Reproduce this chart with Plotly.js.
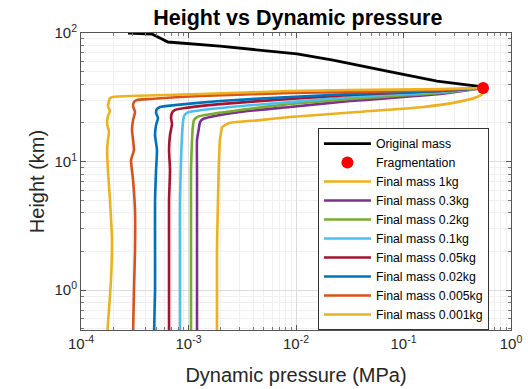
<!DOCTYPE html>
<html>
<head>
<meta charset="utf-8">
<script src="https://cdn.plot.ly/plotly-3.0.1.min.js"></script>
<style>html,body{margin:0;padding:0;background:#fff;}#chart{width:528px;height:389px;}</style>
</head>
<body>
<div id="chart"></div>
<script>
// Original mass trajectory
const origX = [2.74e-4, 4.57e-4, 6.44e-4, 1.96e-3, 0.0102, 0.0221, 0.0703, 0.205, 0.483, 0.55];
const origY = [100, 98.2, 85.1, 79.2, 68.7, 61.6, 50.6, 42.3, 38.7, 37.3];
// Fragmentation point
const fragX = [0.55];
const fragY = [37.3];
// Final mass curves
const m1X = [0.55, 0.55, 0.483, 0.315, 0.152, 0.0369, 8.79e-3, 4.62e-3, 2.43e-3, 2.19e-3, 2.05e-3, 2.01e-3, 1.96e-3, 1.92e-3, 1.88e-3, 1.84e-3, 1.84e-3, 1.84e-3];
const m1Y = [37.3, 34.1, 31.8, 29.0, 26.6, 24.3, 22.2, 21.0, 20.0, 19.2, 18.5, 17.0, 14.7, 10.3, 5.01, 2.05, 1.0, 0.45];
const m03X = [0.55, 0.219, 0.0318, 8.79e-3, 3.01e-3, 1.585e-3, 1.36e-3, 1.28e-3, 1.25e-3, 1.2e-3, 1.2e-3, 1.2e-3, 1.2e-3, 1.2e-3, 1.2e-3];
const m03Y = [37.3, 33.5, 29.6, 26.6, 24.3, 22.2, 21.4, 20.3, 18.2, 14.7, 8.59, 5.01, 2.05, 1.0, 0.45];
const m02X = [0.55, 0.219, 0.0318, 8.79e-3, 3.01e-3, 1.42e-3, 1.2e-3, 1.125e-3, 1.10e-3, 1.078e-3, 1.055e-3, 1.055e-3, 1.055e-3, 1.055e-3, 1.055e-3];
const m02Y = [37.3, 34.1, 30.7, 28.0, 25.2, 23.0, 22.2, 21.0, 18.9, 14.7, 8.59, 5.01, 2.05, 1.0, 0.45];
const m01X = [0.55, 0.219, 0.0318, 8.79e-3, 2.43e-3, 1.148e-3, 9.68e-4, 9.09e-4, 8.89e-4, 8.7e-4, 8.52e-4, 8.34e-4, 8.34e-4, 8.34e-4, 8.34e-4];
const m01Y = [37.3, 34.7, 31.8, 29.0, 26.6, 24.7, 23.9, 22.6, 20.3, 16.1, 10.3, 5.01, 2.05, 1.0, 0.45];
const m005X = [0.55, 0.219, 0.0318, 8.79e-3, 1.96e-3, 9.28e-4, 7.49e-4, 7.02e-4, 6.88e-4, 7.02e-4, 6.73e-4, 6.59e-4, 6.73e-4, 6.59e-4, 6.59e-4, 6.59e-4, 6.59e-4];
const m005Y = [37.3, 35.4, 32.9, 30.7, 28.0, 26.1, 25.2, 23.9, 21.8, 19.6, 16.1, 12.3, 8.59, 5.01, 2.05, 1.0, 0.45];
const m002X = [0.55, 0.219, 0.0318, 8.79e-3, 1.96e-3, 7.49e-4, 5.43e-4, 5.09e-4, 4.99e-4, 5.2e-4, 4.99e-4, 4.88e-4, 5.09e-4, 4.99e-4, 4.88e-4, 4.88e-4, 4.88e-4, 4.78e-4];
const m002Y = [37.3, 35.4, 33.5, 31.8, 29.6, 27.5, 26.6, 25.6, 23.9, 21.8, 19.2, 16.1, 12.3, 8.59, 5.01, 2.05, 1.0, 0.45];
const m0005X = [0.55, 0.219, 0.0318, 8.79e-3, 1.28e-3, 4.38e-4, 3.32e-4, 3.11e-4, 3.05e-4, 3.18e-4, 3.05e-4, 2.98e-4, 3.05e-4, 3.11e-4, 2.92e-4, 3.05e-4, 3.18e-4, 3.18e-4, 3.11e-4, 3.05e-4];
const m0005Y = [37.3, 36.0, 34.7, 34.1, 32.4, 30.7, 30.1, 29.0, 27.0, 24.3, 21.0, 17.6, 14.7, 12.3, 10.3, 7.18, 4.19, 2.05, 1.0, 0.45];
const m0001X = [0.55, 0.219, 0.0318, 8.79e-3, 1.28e-3, 2.86e-4, 1.98e-4, 1.86e-4, 1.82e-4, 1.78e-4, 1.86e-4, 1.78e-4, 1.75e-4, 1.82e-4, 1.78e-4, 1.75e-4, 1.78e-4, 1.86e-4, 1.94e-4, 1.90e-4, 1.82e-4, 1.75e-4];
const m0001Y = [37.3, 36.6, 36.0, 35.4, 33.5, 32.4, 31.8, 31.2, 29.6, 27.0, 24.7, 22.6, 19.6, 17.0, 14.7, 12.3, 8.59, 5.01, 2.45, 1.20, 0.70, 0.45];

const names = ['Original mass', 'Fragmentation', 'Final mass 1kg', 'Final mass 0.3kg', 'Final mass 0.2kg',
  'Final mass 0.1kg', 'Final mass 0.05kg', 'Final mass 0.02kg', 'Final mass 0.005kg', 'Final mass 0.001kg'];
const colors = ['#000000', '#FF0000', '#EDB120', '#7E2F8E', '#77AC30', '#4DBEEE', '#A2142F', '#0072BD', '#D95319', '#EDB120'];

// Tick labels
const xTickVals = [1e-4, 1e-3, 1e-2, 1e-1, 1];
const xTickText = ['10<sup>-4</sup>', '10<sup>-3</sup>', '10<sup>-2</sup>', '10<sup>-1</sup>', '10<sup>0</sup>'];
const yTickVals = [1, 10, 100];
const yTickText = ['10<sup>0</sup>', '10<sup>1</sup>', '10<sup>2</sup>'];

const curveX = [m1X, m03X, m02X, m01X, m005X, m002X, m0005X, m0001X];
const curveY = [m1Y, m03Y, m02Y, m01Y, m005Y, m002Y, m0005Y, m0001Y];

function minorVals(lo, hi) {
  const v = [];
  for (let e = lo; e <= hi; e++) for (let d = 2; d <= 9; d++) v.push(d * Math.pow(10, e));
  return v;
}

const traces = [];
traces.push({x: origX, y: origY, mode: 'lines', name: names[0], line: {color: colors[0], width: 2.8}, legendrank: 1});
curveX.forEach((cx, i) => {
  traces.push({x: cx, y: curveY[i], mode: 'lines', name: names[i + 2],
    line: {color: colors[i + 2], width: 2.6, shape: 'spline', smoothing: 0.5}, legendrank: i + 3});
});
traces.push({x: fragX, y: fragY, mode: 'markers', name: names[1],
  marker: {color: colors[1], size: 12}, legendrank: 2, cliponaxis: false});

const axisCommon = {
  type: 'log', showline: true, linecolor: '#555', linewidth: 1, mirror: 'allticks',
  ticks: 'inside', ticklen: 5, tickcolor: '#555', tickmode: 'array',
  showgrid: true, gridcolor: '#dcdcdc', gridwidth: 1, zeroline: false,
  tickfont: {family: 'Liberation Sans, Arial, sans-serif', size: 15, color: '#262626'}
};

const layout = {
  width: 528, height: 389,
  margin: {l: 81, r: 17, t: 33, b: 59},
  paper_bgcolor: '#fff', plot_bgcolor: '#fff',
  font: {family: 'Liberation Sans, Arial, sans-serif', color: '#262626'},
  title: {text: '<b>Height vs Dynamic pressure</b>', x: 0.564, xanchor: 'center', y: 0.955, yanchor: 'middle',
    font: {size: 21.5, color: '#000', family: 'Liberation Sans, Arial, sans-serif'}},
  xaxis: Object.assign({}, axisCommon, {range: [-4, 0], tickvals: xTickVals, ticktext: xTickText,
    minor: {tickmode: 'array', tickvals: minorVals(-4, -1), ticks: 'inside', ticklen: 3, tickcolor: '#777',
      showgrid: true, gridcolor: '#f0f0f0', gridwidth: 1},
    title: {text: 'Dynamic pressure (MPa)', font: {size: 20, color: '#262626'}, standoff: 16}}),
  yaxis: Object.assign({}, axisCommon, {range: [-0.31, 2], tickvals: yTickVals, ticktext: yTickText,
    minor: {tickmode: 'array', tickvals: minorVals(-1, 1), ticks: 'inside', ticklen: 3, tickcolor: '#777',
      showgrid: true, gridcolor: '#f0f0f0', gridwidth: 1},
    title: {text: 'Height (km)', font: {size: 20, color: '#262626'}, standoff: 4}}),
  showlegend: true,
  legend: {x: 0.551, y: 0.68, xanchor: 'left', yanchor: 'top', bgcolor: '#fff',
    bordercolor: '#333', borderwidth: 1, font: {size: 12.3, color: '#000'}, itemwidth: 47,
    tracegroupgap: 0}
};

Plotly.newPlot('chart', traces, layout, {staticPlot: true, displayModeBar: false});
</script>
</body>
</html>
